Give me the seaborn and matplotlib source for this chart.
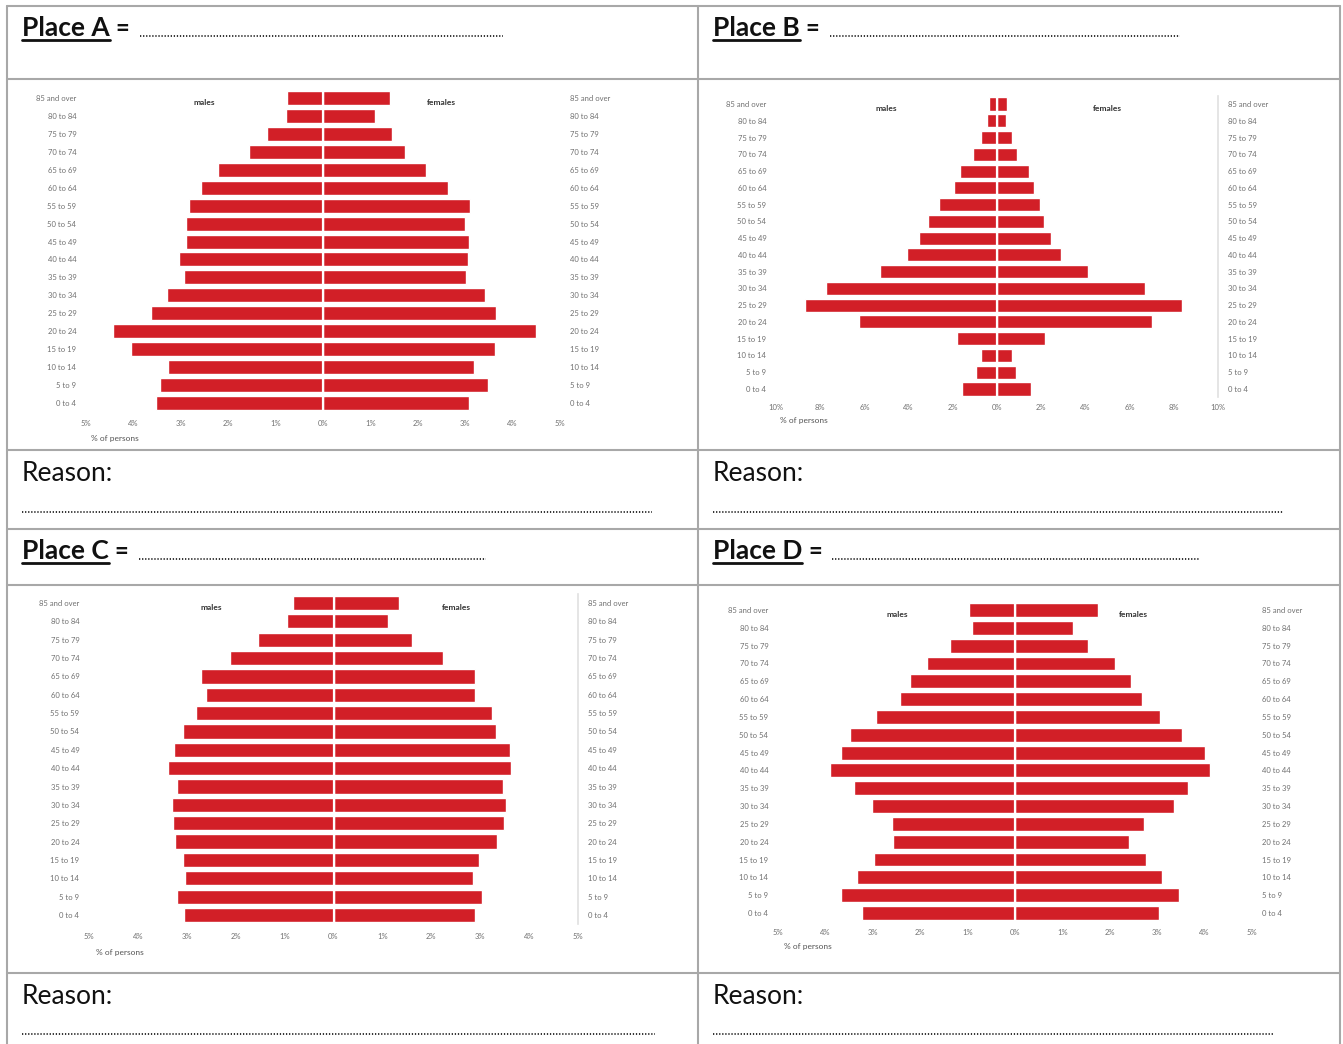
import matplotlib.pyplot as plt
import seaborn as sns
import pandas as pd

# Age bands, top of pyramid first
AGES = ["85 and over", "80 to 84", "75 to 79", "70 to 74", "65 to 69", "60 to 64",
        "55 to 59", "50 to 54", "45 to 49", "40 to 44", "35 to 39", "30 to 34",
        "25 to 29", "20 to 24", "15 to 19", "10 to 14", "5 to 9", "0 to 4"]

# % of persons
males_a = [0.76, 0.78, 1.18, 1.57, 2.22, 2.57, 2.83, 2.88, 2.88, 3.03, 2.94, 3.30,
           3.62, 4.43, 4.05, 3.28, 3.44, 3.53]
females_a = [1.41, 1.10, 1.46, 1.72, 2.17, 2.63, 3.10, 2.99, 3.09, 3.06, 3.01, 3.42,
             3.66, 4.49, 3.62, 3.18, 3.49, 3.09]

males_b = [0.37, 0.46, 0.71, 1.07, 1.69, 1.96, 2.62, 3.10, 3.54, 4.09, 5.30, 7.76,
           8.67, 6.25, 1.81, 0.73, 0.93, 1.57]
females_b = [0.44, 0.41, 0.69, 0.91, 1.46, 1.67, 1.94, 2.14, 2.44, 2.88, 4.11, 6.71,
             8.38, 7.01, 2.17, 0.68, 0.85, 1.52]

males_c = [0.83, 0.95, 1.54, 2.12, 2.71, 2.60, 2.82, 3.08, 3.27, 3.38, 3.20, 3.30,
           3.28, 3.24, 3.07, 3.03, 3.20, 3.06]
females_c = [1.34, 1.11, 1.61, 2.24, 2.89, 2.90, 3.25, 3.33, 3.60, 3.63, 3.46, 3.53,
             3.49, 3.34, 2.98, 2.85, 3.04, 2.89]

males_d = [0.97, 0.91, 1.38, 1.85, 2.22, 2.43, 2.94, 3.48, 3.68, 3.90, 3.39, 3.01,
           2.59, 2.57, 2.98, 3.33, 3.67, 3.23]
females_d = [1.76, 1.23, 1.55, 2.10, 2.45, 2.67, 3.06, 3.53, 4.01, 4.12, 3.65, 3.36,
             2.73, 2.40, 2.77, 3.11, 3.47, 3.03]

W, H = 1343, 1044
BAR_RED = "#d21f27"
GRID = "#a8a8a8"
SMALL = "#707070"

sns.set_theme(style="white")
plt.rcParams["font.family"] = ["Lato", "DejaVu Sans"]

fig = plt.figure(figsize=(W / 100, H / 100), dpi=100)

# background "worksheet" layer in pixel coordinates
bg = fig.add_axes([0, 0, 1, 1])
bg.set_xlim(0, W)
bg.set_ylim(H, 0)
bg.axis("off")

for x in [7, 698, 1340]:
    bg.plot([x, x], [6, H], color=GRID, lw=1.5)
for y in [6, 79, 450, 529, 585, 973]:
    bg.plot([7, 1340], [y, y], color=GRID, lw=1.5)


def dots(x0, x1, y):
    bg.plot([x0, x1], [y, y], color="#222222", lw=1.3, linestyle=(0, (0.7, 1.0)))


renderer = fig.canvas.get_renderer()
headers = [("Place A", 22, 36, 503), ("Place B", 713, 36, 1180),
           ("Place C", 22, 559, 486), ("Place D", 713, 559, 1200)]
for name, x, y, end in headers:
    t = bg.text(x, y, name, fontsize=19, fontweight="bold", va="baseline", color="#111111")
    bb = t.get_window_extent(renderer)
    bg.plot([bb.x0, bb.x1], [y + 4, y + 4], color="#111111", lw=2)
    eq = bg.text(bb.x1 + 6, y, "=", fontsize=17, fontweight="bold", va="baseline", color="#111111")
    eb = eq.get_window_extent(renderer)
    dots(eb.x1 + 10, end, y)

reasons = [(22, 481, 652, 512), (713, 481, 1283, 512),
           (22, 1004, 655, 1034), (713, 1004, 1273, 1034)]
for x, y, end, ydots in reasons:
    bg.text(x, y, "Reason:", fontsize=19, va="baseline", color="#111111")
    dots(x, end, ydots)


def draw_pyramid(males, females, box, lim, step, xpad, sex_x, pct_xy, rule=False):
    left, right, top, bottom = box
    ax = fig.add_axes([left / W, 1 - bottom / H, (right - left) / W, (bottom - top) / H])
    df = pd.DataFrame({
        "age": AGES * 2,
        "sex": ["males"] * len(AGES) + ["females"] * len(AGES),
        "pct": [-m for m in males] + list(females),
    })
    sns.barplot(data=df, x="pct", y="age", hue="sex", order=AGES,
                palette=[BAR_RED, BAR_RED], dodge=False, orient="h", width=0.78,
                saturation=1, errorbar=None, legend=False, ax=ax)
    ax.axvline(0, color="white", lw=1.6)
    ax.set_xlim(-lim, lim)
    ax.set_ylim(len(AGES) - 0.5, -0.5)
    ticks = list(range(-lim, lim + 1, step))
    ax.set_xticks(ticks)
    ax.set_xticklabels([f"{abs(t)}%" for t in ticks])
    ax.set_xlabel("")
    ax.set_ylabel("")
    ax.set_facecolor("none")
    for side in ["top", "left", "bottom"]:
        ax.spines[side].set_visible(False)
    ax.spines["right"].set_visible(rule)
    ax.spines["right"].set_color("#e2e2e2")
    ax.tick_params(axis="x", length=0, pad=xpad, labelsize=5.5, labelcolor=SMALL)
    ax.tick_params(axis="y", length=0, pad=7, labelsize=5.5, labelcolor=SMALL,
                   left=False, right=False, labelleft=True, labelright=True)
    unit = (right - left) / (2 * lim)
    mid = (left + right) / 2
    ax.text(-(mid - sex_x[0]) / unit, 0.25, "males", fontsize=6, fontweight="bold",
            color="#333333", ha="center", va="center")
    ax.text((sex_x[1] - mid) / unit, 0.25, "females", fontsize=6, fontweight="bold",
            color="#333333", ha="center", va="center")
    bg.text(pct_xy[0], pct_xy[1], "% of persons", fontsize=6, color="#555555",
            ha="center", va="center")
    return ax


draw_pyramid(males_a, females_a, (86, 560, 89.0, 412.0), 5, 1, 5.5, (204, 441), (115, 438))
draw_pyramid(males_b, females_b, (776, 1218, 95.6, 397.4), 10, 2, 5.0, (886, 1107), (804, 421), rule=True)
draw_pyramid(males_c, females_c, (89, 578, 593.8, 924.2), 5, 1, 6.5, (211, 456), (120, 952), rule=True)
draw_pyramid(males_d, females_d, (778, 1252, 601.1, 921.9), 5, 1, 5.0, (897, 1133), (808, 947))

fig.savefig("out.png", dpi=100)
